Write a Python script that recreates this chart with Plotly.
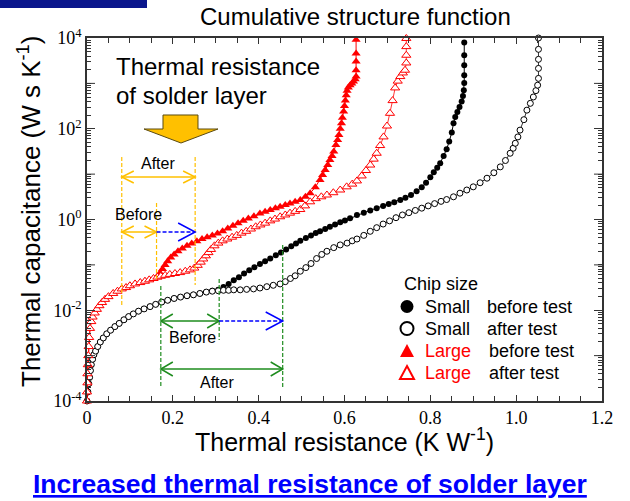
import plotly.graph_objects as go

# ---------------- data (x: thermal resistance K/W, log10 of thermal capacitance) ----------------
small_before_x = [0.000, 0.002, 0.004, 0.006, 0.008, 0.010, 0.013, 0.016, 0.020, 0.025, 0.031, 0.038,
                  0.046, 0.055, 0.065, 0.075, 0.086, 0.097, 0.108, 0.120, 0.133, 0.147, 0.160, 0.174,
                  0.188, 0.203, 0.218, 0.233, 0.248, 0.263, 0.278, 0.292, 0.306,
                  0.318, 0.330, 0.342, 0.354, 0.366, 0.378, 0.390, 0.403, 0.415, 0.427, 0.440, 0.452,
                  0.464, 0.476, 0.487, 0.497, 0.510, 0.522, 0.533, 0.543, 0.555, 0.566, 0.578, 0.590,
                  0.601, 0.613, 0.629, 0.645, 0.660, 0.675, 0.690, 0.703, 0.716, 0.730, 0.742, 0.755,
                  0.768, 0.780, 0.790, 0.800, 0.808, 0.816, 0.823, 0.831, 0.838, 0.844, 0.850, 0.854,
                  0.858, 0.863, 0.868, 0.873, 0.876, 0.878, 0.879, 0.879, 0.879, 0.879, 0.879]
small_before_logc = [-4.00, -3.80, -3.62, -3.48, -3.33, -3.20, -3.08, -2.98, -2.90, -2.80, -2.70, -2.61,
                     -2.52, -2.44, -2.36, -2.29, -2.21, -2.14, -2.08, -2.02, -1.97, -1.92, -1.87, -1.82,
                     -1.78, -1.74, -1.71, -1.68, -1.66, -1.63, -1.60, -1.57, -1.55,
                     -1.49, -1.42, -1.34, -1.27, -1.19, -1.12, -1.05, -0.98, -0.92, -0.86, -0.79, -0.73,
                     -0.66, -0.59, -0.53, -0.47, -0.41, -0.35, -0.30, -0.26, -0.21, -0.16, -0.11, -0.06,
                     -0.02, 0.03, 0.10, 0.15, 0.20, 0.25, 0.30, 0.34, 0.38, 0.43, 0.48, 0.54,
                     0.62, 0.71, 0.81, 0.93, 1.04, 1.14, 1.24, 1.40, 1.55, 1.72, 1.92, 2.12,
                     2.26, 2.37, 2.48, 2.60, 2.72, 2.85, 3.01, 3.18, 3.40, 3.62, 3.90]

small_after_x = [0.000, 0.002, 0.004, 0.006, 0.008, 0.010, 0.013, 0.016, 0.020, 0.025, 0.031, 0.038,
                 0.046, 0.055, 0.065, 0.075, 0.086, 0.097, 0.108, 0.120, 0.133, 0.147, 0.160, 0.174,
                 0.188, 0.203, 0.218, 0.233, 0.248, 0.263, 0.278, 0.292, 0.306,
                 0.318, 0.330, 0.342, 0.357, 0.372, 0.388, 0.403, 0.419, 0.434, 0.450, 0.462, 0.474,
                 0.485, 0.497, 0.510, 0.522, 0.535, 0.547, 0.559, 0.575, 0.590, 0.606, 0.618, 0.629,
                 0.645, 0.660, 0.675, 0.690, 0.705, 0.720, 0.735, 0.750, 0.765, 0.780, 0.795, 0.810,
                 0.825, 0.838, 0.854, 0.869, 0.885, 0.900, 0.916, 0.932, 0.948, 0.963, 0.975, 0.986,
                 0.993, 0.998, 1.004, 1.009, 1.018, 1.025, 1.033, 1.040, 1.046, 1.050, 1.052, 1.052,
                 1.052, 1.052, 1.052]
small_after_logc = [-4.00, -3.80, -3.62, -3.48, -3.33, -3.20, -3.08, -2.98, -2.90, -2.80, -2.70, -2.61,
                    -2.52, -2.44, -2.36, -2.29, -2.21, -2.14, -2.08, -2.02, -1.97, -1.92, -1.87, -1.82,
                    -1.78, -1.74, -1.71, -1.68, -1.66, -1.63, -1.60, -1.58, -1.57,
                    -1.56, -1.56, -1.55, -1.55, -1.54, -1.53, -1.51, -1.48, -1.45, -1.42, -1.37, -1.30,
                    -1.24, -1.14, -1.06, -0.97, -0.86, -0.77, -0.70, -0.62, -0.56, -0.52, -0.47, -0.43,
                    -0.35, -0.26, -0.18, -0.10, -0.03, 0.04, 0.10, 0.15, 0.20, 0.25, 0.30, 0.35,
                    0.40, 0.44, 0.50, 0.58, 0.65, 0.72, 0.81, 0.91, 1.03, 1.16, 1.30, 1.46,
                    1.57, 1.68, 1.82, 1.97, 2.20, 2.41, 2.56, 2.70, 2.84, 2.96, 3.11, 3.33,
                    3.53, 3.75, 4.00]

large_before_x = [0.000, 0.000, 0.001, 0.001, 0.002, 0.003, 0.004, 0.005, 0.007, 0.010, 0.013, 0.018,
                  0.023, 0.029, 0.035, 0.042, 0.050, 0.061, 0.071, 0.081, 0.091, 0.100, 0.112, 0.124,
                  0.135, 0.145, 0.155, 0.164,
                  0.170, 0.176, 0.182, 0.188, 0.195, 0.203, 0.212, 0.222, 0.233, 0.244, 0.256, 0.268,
                  0.280, 0.292, 0.304, 0.316, 0.328, 0.340, 0.352, 0.364, 0.376, 0.389, 0.403, 0.415,
                  0.427, 0.439, 0.450, 0.462, 0.473, 0.485, 0.497, 0.509, 0.520, 0.532, 0.543, 0.549,
                  0.555, 0.561, 0.566, 0.571, 0.575, 0.580, 0.584, 0.587, 0.590, 0.593, 0.595, 0.598,
                  0.600, 0.602, 0.604, 0.606, 0.609, 0.613, 0.617, 0.621, 0.625, 0.627, 0.627, 0.627,
                  0.627, 0.627]
large_before_logc = [-4.00, -3.80, -3.60, -3.40, -3.20, -3.00, -2.80, -2.60, -2.40, -2.25, -2.15, -2.06,
                     -1.98, -1.90, -1.83, -1.76, -1.70, -1.63, -1.58, -1.53, -1.50, -1.46, -1.42, -1.39,
                     -1.36, -1.33, -1.30, -1.27,
                     -1.18, -1.09, -1.00, -0.92, -0.84, -0.77, -0.70, -0.64, -0.58, -0.53, -0.48, -0.43,
                     -0.39, -0.35, -0.31, -0.26, -0.20, -0.14, -0.08, -0.03, 0.02, 0.07, 0.13, 0.17,
                     0.21, 0.25, 0.28, 0.32, 0.35, 0.39, 0.43, 0.50, 0.58, 0.71, 0.87, 0.98,
                     1.09, 1.20, 1.31, 1.40, 1.50, 1.64, 1.75, 1.86, 2.00, 2.12, 2.24, 2.38,
                     2.50, 2.62, 2.74, 2.84, 2.91, 2.96, 3.00, 3.04, 3.09, 3.15, 3.29, 3.48,
                     3.66, 3.96]

large_after_x = [0.000, 0.000, 0.001, 0.001, 0.002, 0.003, 0.004, 0.005, 0.007, 0.010, 0.013, 0.018,
                 0.023, 0.029, 0.035, 0.042, 0.050, 0.061, 0.071, 0.081, 0.091, 0.100, 0.112, 0.124,
                 0.135, 0.145, 0.155, 0.164,
                 0.172, 0.182, 0.193, 0.205, 0.217, 0.229, 0.240, 0.250, 0.258, 0.265, 0.271, 0.277,
                 0.283, 0.289, 0.297, 0.306, 0.316, 0.327, 0.338, 0.349, 0.360, 0.371, 0.382, 0.393,
                 0.404, 0.415, 0.427, 0.438, 0.450, 0.462, 0.473, 0.485, 0.497, 0.508, 0.520, 0.533,
                 0.546, 0.559, 0.574, 0.590, 0.605, 0.618, 0.629, 0.640, 0.650, 0.660, 0.668, 0.675,
                 0.683, 0.691, 0.699, 0.706, 0.712, 0.718, 0.724, 0.730, 0.736, 0.741, 0.744, 0.744,
                 0.744, 0.744]
large_after_logc = [-4.00, -3.80, -3.60, -3.40, -3.20, -3.00, -2.80, -2.60, -2.40, -2.25, -2.15, -2.06,
                    -1.98, -1.90, -1.83, -1.76, -1.70, -1.63, -1.58, -1.53, -1.50, -1.46, -1.42, -1.39,
                    -1.36, -1.33, -1.30, -1.27,
                    -1.25, -1.23, -1.21, -1.19, -1.17, -1.14, -1.11, -1.07, -1.01, -0.94, -0.87, -0.80,
                    -0.73, -0.66, -0.58, -0.52, -0.47, -0.43, -0.39, -0.35, -0.30, -0.26, -0.21, -0.16,
                    -0.12, -0.08, -0.03, 0.01, 0.06, 0.10, 0.14, 0.18, 0.22, 0.30, 0.39, 0.46,
                    0.50, 0.54, 0.59, 0.65, 0.72, 0.78, 0.85, 0.96, 1.08, 1.20, 1.33, 1.46,
                    1.63, 1.82, 2.06, 2.34, 2.62, 2.90, 3.05, 3.15, 3.23, 3.29, 3.45, 3.62,
                    3.81, 3.99]

# solder-layer resistance markers (K/W)
orange_marks = [0.081, 0.162, 0.252]   # large chip: start, before-end, after-end
green_marks = [0.172, 0.308, 0.456]    # small chip: start, before-end, after-end

x_tickvals = [0, 0.2, 0.4, 0.6, 0.8, 1.0, 1.2]
x_ticktext = ["0", "0.2", "0.4", "0.6", "0.8", "1.0", "1.2"]
y_label_decades = [-4, -2, 0, 2, 4]
y_ticktext = ["10<sup>-4</sup>", "10<sup>-2</sup>", "10<sup>0</sup>", "10<sup>2</sup>", "10<sup>4</sup>"]
y_odd_decades = [-3, -1, 1, 3]

legend_sizes = ["Small", "Small", "Large", "Large"]
legend_tests = ["before test", "after test", "before test", "after test"]

# ---------------- figure ----------------
SANS = "Liberation Sans, Arial, sans-serif"
SERIF = "Liberation Serif, Times New Roman, serif"
ORANGE = "#FFC000"
GREEN = "#1E8C1E"
BLUE = "#0000FF"
RED = "#FF0000"
AX = "#333333"

L, R, T, B = 87, 602, 38, 401
W, H = R - L, B - T


def fx(p):
    return (p - L) / W


def fy(p):
    return (B - p) / H


def cap(logs):
    return [10 ** v for v in logs]


fig = go.Figure()
fig.add_trace(go.Scatter(x=small_before_x, y=cap(small_before_logc), mode="lines+markers",
                         line=dict(color="black", width=1),
                         marker=dict(symbol="circle", size=6, color="black"),
                         showlegend=False, cliponaxis=False))
fig.add_trace(go.Scatter(x=small_after_x, y=cap(small_after_logc), mode="lines+markers",
                         line=dict(color="black", width=0.8),
                         marker=dict(symbol="circle", size=6, color="white",
                                     line=dict(color="black", width=1)),
                         showlegend=False, cliponaxis=False))
fig.add_trace(go.Scatter(x=large_before_x, y=cap(large_before_logc), mode="lines+markers",
                         line=dict(color=RED, width=1),
                         marker=dict(symbol="triangle-up", size=8, color=RED),
                         showlegend=False, cliponaxis=False))
fig.add_trace(go.Scatter(x=large_after_x, y=cap(large_after_logc), mode="lines+markers",
                         line=dict(color=RED, width=0.8),
                         marker=dict(symbol="triangle-up", size=8, color="white",
                                     line=dict(color=RED, width=1)),
                         showlegend=False, cliponaxis=False))

shapes = []
annotations = []

# longer ticks at the unlabeled decades (left and right axes)
for d in y_odd_decades:
    yp = (d + 4) / 8
    for xa, xb in ((0, 8 / W), (1 - 8 / W, 1)):
        shapes.append(dict(type="line", xref="paper", yref="paper", x0=xa, x1=xb, y0=yp, y1=yp,
                           line=dict(color=AX, width=1)))

# blue bar in top-left corner
shapes.append(dict(type="rect", xref="paper", yref="paper", x0=fx(0), x1=fx(147), y0=fy(8), y1=fy(0),
                   fillcolor="#0A168C", line=dict(width=0), layer="above"))
# down block arrow
arrow_pts = [(163, 115), (198, 115), (198, 129), (218, 129), (181, 143), (144, 129), (163, 129)]
path = "M " + " L ".join(f"{fx(a):.5f},{fy(b):.5f}" for a, b in arrow_pts) + " Z"
shapes.append(dict(type="path", xref="paper", yref="paper", path=path, fillcolor=ORANGE,
                   line=dict(color="#5A4A10", width=1)))


def vline(x, p0, p1, color):
    shapes.append(dict(type="line", xref="x", yref="paper", x0=x, x1=x, y0=fy(p0), y1=fy(p1),
                       line=dict(color=color, width=1.2, dash="4px,2px")))


def hline(xa, xb, p, color, dash=None):
    ln = dict(color=color, width=1.5)
    if dash:
        ln["dash"] = dash
    shapes.append(dict(type="line", xref="x", yref="paper", x0=xa, x1=xb, y0=fy(p), y1=fy(p), line=ln))


def chevron(x, p, direction, color, lpx, hpx):
    dx = direction * lpx * 1.2 / W
    dy = hpx / H
    yc = fy(p)
    pth = f"M {x - dx:.5f},{yc + dy:.5f} L {x:.5f},{yc:.5f} L {x - dx:.5f},{yc - dy:.5f}"
    shapes.append(dict(type="path", xref="x", yref="paper", path=pth,
                       line=dict(color=color, width=1.5)))


o1, o2, o3 = orange_marks
g1, g2, g3 = green_marks
vline(o1, 157, 307, ORANGE)
vline(o2, 203, 280, ORANGE)
vline(o3, 157, 285, ORANGE)
vline(g1, 286, 387, GREEN)
vline(g2, 279, 340, GREEN)
vline(g3, 245, 388, GREEN)

hline(o1, o3, 177, ORANGE)
chevron(o1, 177, -1, ORANGE, 12, 6)
chevron(o3, 177, 1, ORANGE, 12, 6)
hline(o1, o2, 232, ORANGE)
chevron(o1, 232, -1, ORANGE, 12, 6)
chevron(o2, 232, 1, ORANGE, 12, 6)
hline(o2, o3, 232, BLUE, "4px,2px")
chevron(o3, 232, 1, BLUE, 17, 9)
hline(g1, g2, 321, GREEN)
chevron(g1, 321, -1, GREEN, 12, 7)
chevron(g2, 321, 1, GREEN, 12, 7)
hline(g2, g3, 321, BLUE, "4px,2px")
chevron(g3, 321, 1, BLUE, 17, 9)
hline(g1, g3, 369, GREEN)
chevron(g1, 369, -1, GREEN, 12, 7)
chevron(g3, 369, 1, GREEN, 12, 7)


def text(t, xp, yp, size, color="black", family=SANS, xanchor="center", angle=0):
    annotations.append(dict(text=t, xref="paper", yref="paper", x=fx(xp), y=fy(yp), showarrow=False,
                            xanchor=xanchor, yanchor="middle", textangle=angle,
                            font=dict(family=family, size=size, color=color)))


text("Cumulative structure function", 355, 16, 24)
text("Thermal resistance", 114, 66, 24, xanchor="left")
text("of solder layer", 114, 95, 24, xanchor="left")
text("After", 158, 163, 16)
text("Before", 138, 214, 16)
text("Before", 192, 337, 16)
text("After", 217, 382, 16)
text("Thermal resistance (K W<sup>-1</sup>)", 344, 440, 25)
text("Thermal capacitance (W s K<sup>-1</sup>)", 30, 212, 26, angle=-90)
text("<b><u>Increased thermal resistance of solder layer</u></b>", 310, 484, 26.5, color="#0000FF")

# chip-size key (drawn in pixel layout)
text("Chip size", 402, 284, 18, xanchor="left")
row_y = [306.5, 328.5, 350.5, 372.5]
for i, (sz, tst) in enumerate(zip(legend_sizes, legend_tests)):
    yc = row_y[i]
    col = "black" if sz == "Small" else RED
    text(sz, 423, yc, 18, color=col, xanchor="left")
    text(tst, 485 if sz == "Small" else 487, yc, 18, xanchor="left")
    if sz == "Small":
        filled = tst.startswith("before")
        shapes.append(dict(type="circle", xref="paper", yref="paper",
                           x0=fx(400.5), x1=fx(413.5), y0=fy(yc + 6.5), y1=fy(yc - 6.5),
                           fillcolor="black" if filled else "white",
                           line=dict(color="black", width=0 if filled else 2)))
    else:
        filled = tst.startswith("before")
        pts = [(407, yc - 6.5), (414, yc + 6.5), (400, yc + 6.5)]
        pth = "M " + " L ".join(f"{fx(a):.5f},{fy(b):.5f}" for a, b in pts) + " Z"
        shapes.append(dict(type="path", xref="paper", yref="paper", path=pth,
                           fillcolor=RED if filled else "white",
                           line=dict(color=RED, width=0 if filled else 2)))

fig.update_layout(
    width=630, height=501,
    margin=dict(l=L, r=630 - R, t=T, b=501 - B, pad=0),
    paper_bgcolor="white", plot_bgcolor="white",
    shapes=shapes, annotations=annotations,
    showlegend=False,
    xaxis=dict(range=[0, 1.2], tickmode="array", tickvals=x_tickvals, ticktext=x_ticktext,
               ticks="inside", ticklen=6, tickwidth=1, tickcolor=AX,
               showline=True, linecolor=AX, linewidth=1.5, mirror="ticks",
               showgrid=False, zeroline=False,
               tickfont=dict(family=SERIF, size=18, color="black"),
               minor=dict(tickmode="linear", tick0=0, dtick=0.05, ticks="inside", ticklen=5,
                          tickcolor=AX, showgrid=False)),
    yaxis=dict(type="log", range=[-4, 4], tickmode="array",
               tickvals=[10 ** d for d in y_label_decades], ticktext=y_ticktext,
               ticks="inside", ticklen=8, tickwidth=1, tickcolor=AX,
               showline=True, linecolor=AX, linewidth=1.5, mirror="ticks",
               showgrid=False, zeroline=False,
               tickfont=dict(family=SERIF, size=18, color="black"),
               minor=dict(dtick="D1", ticks="inside", ticklen=4, tickcolor=AX, showgrid=False)),
)

fig.write_html("out.html", config={"displayModeBar": False},
               post_script="document.body.style.margin='0px';")
